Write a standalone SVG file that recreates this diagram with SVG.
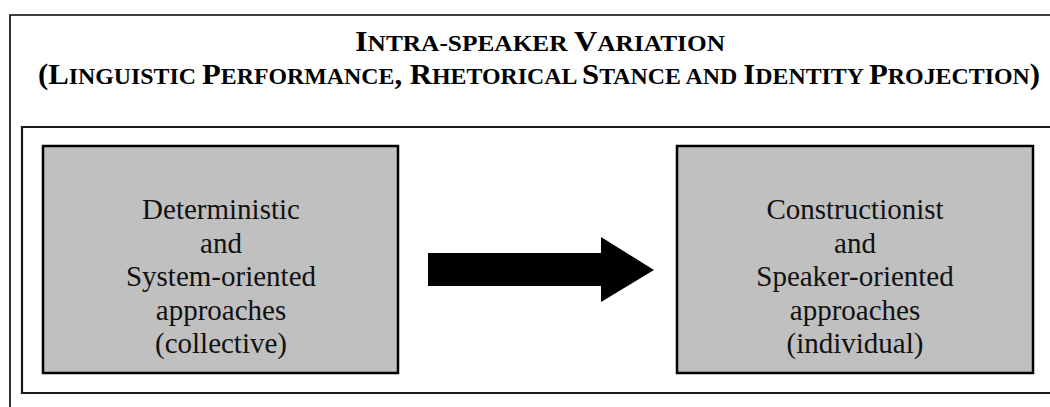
<svg xmlns="http://www.w3.org/2000/svg" width="1050" height="407" viewBox="0 0 1050 407">
  <defs>
    <style>
      .frame { fill: none; stroke: #000; stroke-width: 1.6; }
      .inner { fill: none; stroke: #1a1a1a; stroke-width: 2.2; }
      .box { fill: #c0c0c0; stroke: #000; stroke-width: 2.5; }
      .title { font-weight: bold; fill: #000; text-anchor: middle; }
      .label { font-size: 29px; fill: #111; text-anchor: middle; }
      .arrow { fill: #000; stroke: none; }
    </style>
  </defs>

  <rect width="1050" height="407" fill="#fff"/>

  <!-- outer frame (continues past the right and bottom edges) -->
  <path class="frame" d="M10,407 V15 H1050"/>

  <!-- heading, set in small capitals -->
  <g id="heading" font-family="'Liberation Serif', 'Times New Roman', serif">
    <text class="title" x="540" y="51" font-size="30" textLength="370" lengthAdjust="spacingAndGlyphs"><tspan>I</tspan><tspan font-size="23.5">NTRA-SPEAKER </tspan><tspan>V</tspan><tspan font-size="23.5">ARIATION</tspan></text>
    <text class="title" x="539" y="84" font-size="29" textLength="1002" lengthAdjust="spacingAndGlyphs"><tspan>(L</tspan><tspan font-size="22.5">INGUISTIC </tspan><tspan>P</tspan><tspan font-size="22.5">ERFORMANCE</tspan><tspan>, R</tspan><tspan font-size="22.5">HETORICAL </tspan><tspan>S</tspan><tspan font-size="22.5">TANCE AND </tspan><tspan>I</tspan><tspan font-size="22.5">DENTITY </tspan><tspan>P</tspan><tspan font-size="22.5">ROJECTION</tspan><tspan>)</tspan></text>
  </g>

  <!-- inner frame (continues past the right edge) -->
  <path class="inner" d="M1050,127 H22 V393 H1050"/>

  <g id="node-deterministic" font-family="'Liberation Serif', 'Times New Roman', serif">
    <rect class="box" x="43" y="146" width="355" height="227"/>
    <text class="label" x="221" y="219">Deterministic</text>
    <text class="label" x="221" y="252.5">and</text>
    <text class="label" x="221" y="286">System-oriented</text>
    <text class="label" x="221" y="319.5">approaches</text>
    <text class="label" x="221" y="353">(collective)</text>
  </g>

  <g id="node-constructionist" font-family="'Liberation Serif', 'Times New Roman', serif">
    <rect class="box" x="677" y="146" width="356" height="227"/>
    <text class="label" x="855" y="219">Constructionist</text>
    <text class="label" x="855" y="252.5">and</text>
    <text class="label" x="855" y="286">Speaker-oriented</text>
    <text class="label" x="855" y="319.5">approaches</text>
    <text class="label" x="855" y="353">(individual)</text>
  </g>

  <g id="connectors">
    <polygon class="arrow" points="428,253 601,253 601,237 654,270 601,302 601,286 428,286"/>
  </g>
</svg>
